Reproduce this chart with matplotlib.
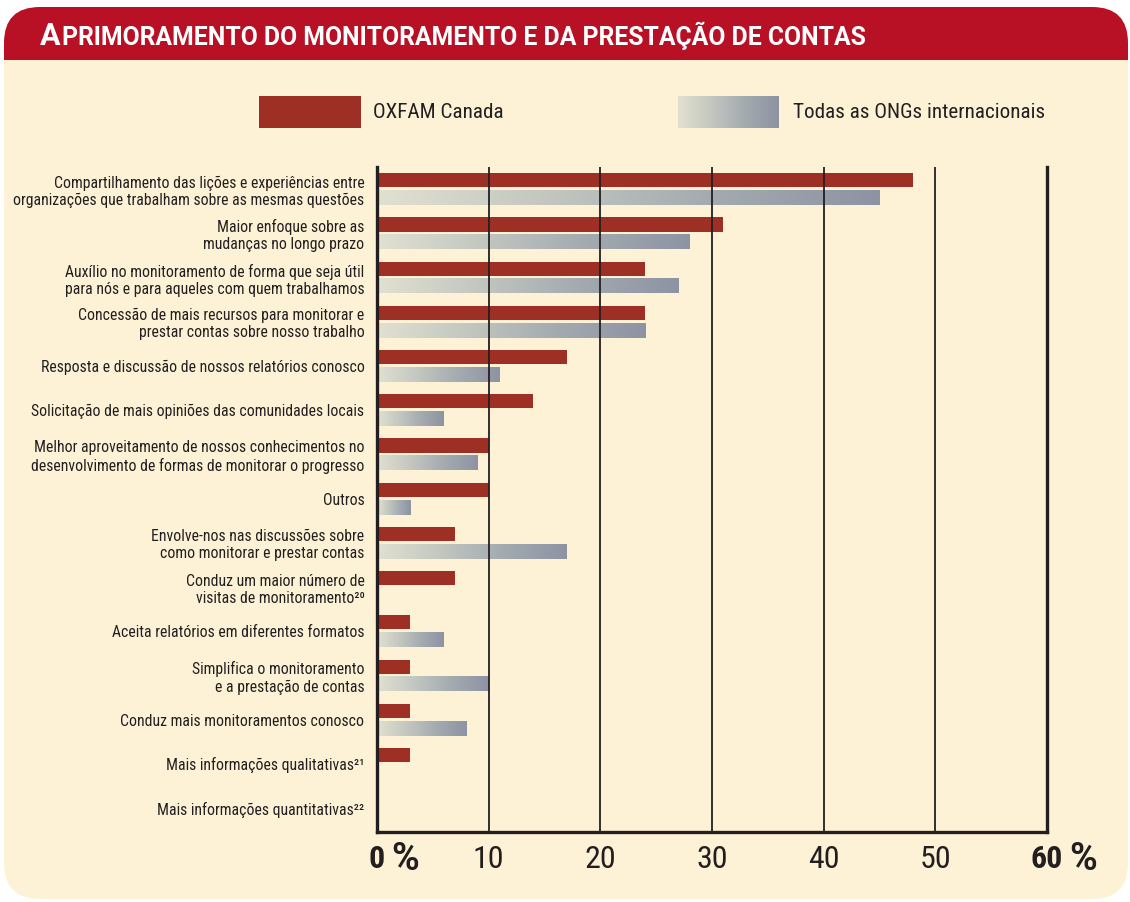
import matplotlib
matplotlib.use("Agg")
import matplotlib.pyplot as plt
import numpy as np
from matplotlib import font_manager as fm
from matplotlib.patches import FancyBboxPatch, Rectangle
from matplotlib.colors import LinearSegmentedColormap

# ---------------- data ----------------
title_first = "A"
title_rest = "PRIMORAMENTO DO MONITORAMENTO E DA PRESTAÇÃO DE CONTAS"
series_names = ["OXFAM Canada", "Todas as ONGs internacionais"]
categories = [
    "Compartilhamento das lições e experiências entre\norganizações que trabalham sobre as mesmas questões",
    "Maior enfoque sobre as\nmudanças no longo prazo",
    "Auxílio no monitoramento de forma que seja útil\npara nós e para aqueles com quem trabalhamos",
    "Concessão de mais recursos para monitorar e\nprestar contas sobre nosso trabalho",
    "Resposta e discussão de nossos relatórios conosco",
    "Solicitação de mais opiniões das comunidades locais",
    "Melhor aproveitamento de nossos conhecimentos no\ndesenvolvimento de formas de monitorar o progresso",
    "Outros",
    "Envolve-nos nas discussões sobre\ncomo monitorar e prestar contas",
    "Conduz um maior número de\nvisitas de monitoramento²⁰",
    "Aceita relatórios em diferentes formatos",
    "Simplifica o monitoramento\ne a prestação de contas",
    "Conduz mais monitoramentos conosco",
    "Mais informações qualitativas²¹",
    "Mais informações quantitativas²²",
]
oxfam = [48, 31, 24, 24, 17, 14, 10, 10, 7, 7, 3, 3, 3, 3, 0]
ongs = [45, 28, 27, 24, 11, 6, 9, 3, 17, 0, 6, 10, 8, 0, 0]
xticks = [0, 10, 20, 30, 40, 50, 60]
xticklabels = ["0", "10", "20", "30", "40", "50", "60"]


# ---------------- font choice (a condensed sans if available) ----------------
def choose_font():
    names = {}
    for f in fm.fontManager.ttflist:
        names.setdefault(f.name, set()).add(str(f.stretch))
    for fam in ["Liberation Sans Narrow", "Roboto Condensed", "Open Sans Condensed",
                "Noto Sans Condensed", "DejaVu Sans Condensed", "Arial Narrow"]:
        if fam in names:
            return fam, "normal"
    for fam in ["Roboto", "Open Sans", "Noto Sans", "DejaVu Sans"]:
        st = names.get(fam, set())
        for s in ["condensed", "semi-condensed"]:
            if s in st:
                return fam, s
    for nm, st in names.items():
        if "Condensed" in nm or "Narrow" in nm:
            return nm, "normal"
    return "DejaVu Sans", "condensed"


FAM, STRETCH = choose_font()
plt.rcParams['font.family'] = [FAM, 'DejaVu Sans']
plt.rcParams['font.stretch'] = STRETCH
WIDE = dict(family=['Roboto', 'DejaVu Sans'], fontstretch='normal')

# ---------------- style ----------------
W, H = 1130, 902
RED = "#9e2f25"
HEADER = "#b81025"
CREAM = "#fef2d6"
DARK = "#231f20"
grad_cmap = LinearSegmentedColormap.from_list(
    "g", ["#e1e1d1", "#c3c7c0", "#a3abb0", "#8d93a3"])
grad = np.linspace(0, 1, 256).reshape(1, -1)

fig = plt.figure(figsize=(W / 100, H / 100), dpi=100)
fig.patch.set_facecolor("white")

# background overlay in pixel coordinates
bg = fig.add_axes([0, 0, 1, 1], zorder=-5)
bg.axis("off")
bg.add_patch(FancyBboxPatch((4, 7), 1124, 892,
                            boxstyle="round,pad=0,rounding_size=36",
                            facecolor=CREAM, edgecolor="none", zorder=1))
bg.add_patch(FancyBboxPatch((4, 7), 1124, 120,
                            boxstyle="round,pad=0,rounding_size=36",
                            facecolor=HEADER, edgecolor="none", zorder=1.1))
bg.add_patch(Rectangle((4, 60), 1124, 100, facecolor=CREAM, edgecolor="none", zorder=1.2))

# legend
bg.add_patch(Rectangle((259, 96), 102, 32, facecolor=RED, edgecolor="none", zorder=2))
bg.imshow(grad, extent=[678, 779, 128, 96], aspect="auto", cmap=grad_cmap,
          interpolation="bilinear", zorder=3)
bg.set_xlim(0, W)
bg.set_ylim(H, 0)
bg.text(373, 112, series_names[0], fontsize=15.2, color=DARK, va="center", ha="left")
bg.text(793, 112, series_names[1], fontsize=15.2, color=DARK, va="center", ha="left")

# main axes
ax = fig.add_axes([377 / W, 1 - 832 / H, 670 / W, 665 / H])
ax.patch.set_alpha(0)
n = len(categories)
ypos = np.arange(n)
off, bh = 0.2, 0.32
ax.barh(ypos - off, oxfam, height=bh, color=RED, zorder=2)
for y, v in zip(ypos, ongs):
    if v > 0:
        ax.imshow(grad, extent=[0, v, y + off + bh / 2, y + off - bh / 2],
                  aspect="auto", cmap=grad_cmap, interpolation="bilinear", zorder=2)
ax.vlines(xticks[1:-1], 0, 1, transform=ax.get_xaxis_transform(),
          color=DARK, lw=1.3, zorder=3)
ax.set_xlim(xticks[0], xticks[-1])
ax.set_ylim(n - 1 + 0.54, -0.5)

for s in ["left", "right", "bottom"]:
    ax.spines[s].set_linewidth(2.4)
    ax.spines[s].set_color(DARK)
    ax.spines[s].set_zorder(4)
ax.spines["top"].set_visible(False)

ax.set_yticks(ypos)
ax.set_yticklabels(categories, fontsize=11.3, color=DARK, linespacing=1.18)
ax.tick_params(axis="y", length=0, pad=9)
ax.set_xticks(xticks)
ax.set_xticklabels([])
ax.tick_params(axis="x", length=0)

num_texts = []
for i, (xv, lab) in enumerate(zip(xticks, xticklabels)):
    bold = i == 0 or i == len(xticks) - 1
    t = ax.annotate(lab, xy=(xv, 0), xycoords=ax.get_xaxis_transform(),
                    xytext=(0, -19.5), textcoords="offset points",
                    ha="center", va="center", fontsize=23,
                    fontweight="bold" if bold else "normal", color=DARK)
    num_texts.append((t, bold))

# title in small caps
t1 = fig.text(40 / W, 1 - 45 / H, title_first, fontsize=22, fontweight="bold",
              color="white", va="baseline", ha="left", **WIDE)
fig.canvas.draw()
r = fig.canvas.get_renderer()
bb = t1.get_window_extent(r)
t2 = fig.text((bb.x1 + 1) / W, 1 - 45 / H, title_rest, fontsize=17.8, fontweight="bold",
              color="white", va="baseline", ha="left", **WIDE)

# percent signs after the bold end labels
for t, bold in num_texts:
    if bold:
        b = t.get_window_extent(r)
        fig.text((b.x1 + 6) / W, (b.y0 + b.y1) / 2 / H, "%", fontsize=27,
                 fontweight="bold", color=DARK, ha="left", va="center", **WIDE)

fig.savefig("out.png", dpi=100, facecolor="white")
